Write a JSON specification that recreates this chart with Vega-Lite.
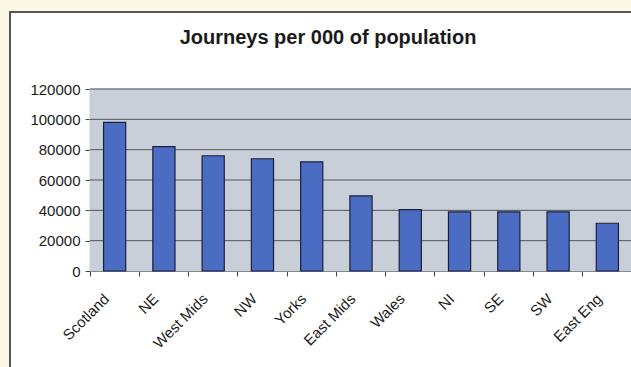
{
  "$schema": "https://vega.github.io/schema/vega-lite/v6.json",
  "autosize": "none",
  "width": 640,
  "height": 370,
  "padding": {"left": 10, "top": 12, "right": 0, "bottom": 0},
  "background": "#fbf9e6",
  "title": {
    "text": "Journeys per 000 of population",
    "font": "Liberation Sans",
    "fontSize": 20,
    "fontWeight": "bold",
    "color": "#1a1a1a",
    "anchor": "middle",
    "frame": "group",
    "baseline": "alphabetic",
    "offset": -52,
    "dx": -2
  },
  "data": {
    "values": [
      {"region": "Scotland", "journeys": 98000},
      {"region": "NE", "journeys": 82000},
      {"region": "West Mids", "journeys": 76000},
      {"region": "NW", "journeys": 74000},
      {"region": "Yorks", "journeys": 72000},
      {"region": "East Mids", "journeys": 49500},
      {"region": "Wales", "journeys": 40500},
      {"region": "NI", "journeys": 39000},
      {"region": "SE", "journeys": 39000},
      {"region": "SW", "journeys": 39000},
      {"region": "East Eng", "journeys": 31500}
    ]
  },
  "encoding": {
    "x": {
      "field": "region",
      "type": "nominal",
      "sort": null,
      "title": null,
      "scale": {"range": [80, 622], "paddingInner": 0, "paddingOuter": 0},
      "axis": {
        "orient": "bottom",
        "offset": -111,
        "bandPosition": 0,
        "labelOffset": -8,
        "labelAngle": -45,
        "labelAlign": "right",
        "labelBaseline": "middle",
        "labelPadding": 20,
        "labelFont": "Liberation Sans",
        "labelFontSize": 15,
        "labelColor": "#1a1a1a",
        "domainColor": "#444",
        "tickColor": "#444",
        "tickSize": 5,
        "grid": false
      }
    }
  },
  "layer": [
    {
      "mark": {"type": "bar", "color": "#c8cfd9", "stroke": "#c8cfd9", "strokeWidth": 1},
      "encoding": {
        "y": {"datum": 120000, "type": "quantitative"},
        "y2": {"datum": 0}
      }
    },
    {
      "data": {"values": [{"level": 20000}, {"level": 40000}, {"level": 60000}, {"level": 80000}, {"level": 100000}, {"level": 120000}]},
      "mark": {"type": "rule", "color": "#555", "strokeWidth": 1},
      "encoding": {
        "x": {"datum": "Scotland", "type": "nominal", "bandPosition": 0},
        "x2": {"datum": "East Eng", "bandPosition": 1},
        "y": {"field": "level", "type": "quantitative"}
      }
    },
    {
      "mark": {"type": "bar", "color": "#4a6cc2", "stroke": "#1c1f3a", "strokeWidth": 1.2, "width": {"band": 0.45}},
      "encoding": {
        "y": {
          "field": "journeys",
          "type": "quantitative",
          "title": null,
          "scale": {"domain": [0, 120000], "range": [259, 77], "nice": false},
          "axis": {
            "orient": "left",
            "offset": -80,
            "values": [0, 20000, 40000, 60000, 80000, 100000, 120000],
            "format": "d",
            "labelFont": "Liberation Sans",
            "labelFontSize": 15,
            "labelColor": "#1a1a1a",
            "labelPadding": 5,
            "domainColor": "#444",
            "tickColor": "#444",
            "tickSize": 5,
            "grid": false
          }
        }
      }
    }
  ],
  "config": {
    "view": {"fill": "white", "stroke": "#555", "strokeWidth": 2}
  }
}
